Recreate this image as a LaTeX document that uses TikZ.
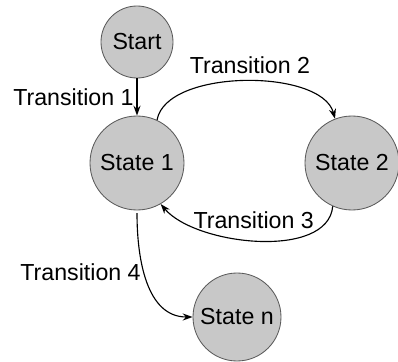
\documentclass[tikz,border=0pt]{standalone}
\usepackage{fontspec}
\setmainfont{Liberation Sans}
\usetikzlibrary{arrows.meta}
\definecolor{stategray}{RGB}{200,200,200}
\definecolor{rimgray}{RGB}{90,90,90}
\tikzset{
  state/.style={circle, draw=rimgray, fill=stategray, line width=.6pt, inner sep=0pt},
  trans/.style={-{Stealth[length=7pt,width=5pt]}, line width=.8pt},
  lbl/.style={font=\fontsize{16.5}{18}\selectfont, inner sep=2pt}
}
\begin{document}
\begin{tikzpicture}[font=\fontsize{16.5}{18}\selectfont]
\useasboundingbox (0,0) rectangle (9.95,9.025);
\node[state, minimum size=1.8cm] (start) at (3.425,7.975) {Start};
\node[state, minimum size=2.35cm] (s1) at (3.425,4.95) {State 1};
\node[state, minimum size=2.35cm] (s2) at (8.8,4.95) {State 2};
\node[state, minimum size=2.2cm] (sn) at (5.925,1.1) {State n};

\draw[trans] (start) -- node[lbl, left] {Transition 1} (s1);
\draw[trans] (s1.65) to[out=80,in=105,looseness=.75] node[lbl, above, pos=.5, xshift=4pt, yshift=3pt] {Transition 2} (s2.111);
\draw[trans] (s2.246) to[out=265,in=-50,looseness=.8] node[lbl, above, pos=.5, xshift=-3pt, yshift=6pt] {Transition 3} (s1.300);
\draw[trans] ([yshift=-2pt]s1.south) to[out=-90,in=180] node[lbl, left, pos=.42] {Transition 4} (sn.west);
\end{tikzpicture}
\end{document}
